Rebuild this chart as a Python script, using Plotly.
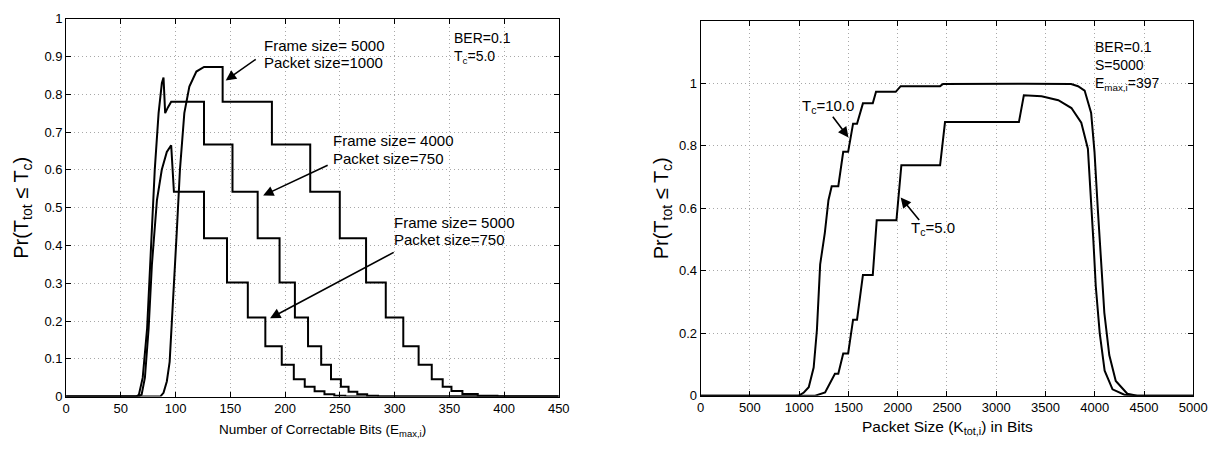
import plotly.graph_objects as go

# ---------------- data ----------------
# Left panel: Pr(T_tot <= T_c) vs number of correctable bits
a_x = [0, 86, 89, 92, 94.6, 98, 101, 104, 108, 112.6, 119, 126, 143, 143, 188, 188, 223, 223, 250, 250,
       274, 274, 292, 292, 308, 308, 322, 322, 334, 334, 344, 344, 352, 352, 362, 362, 376, 376, 394, 394, 450]
a_y = [0, 0, 0.01, 0.04, 0.092, 0.26, 0.43, 0.60, 0.75, 0.82, 0.86, 0.872, 0.872, 0.78, 0.78, 0.667, 0.667,
       0.542, 0.542, 0.419, 0.419, 0.302, 0.302, 0.209, 0.209, 0.133, 0.133, 0.084, 0.084, 0.046, 0.046,
       0.026, 0.026, 0.015, 0.015, 0.007, 0.007, 0.002, 0.002, 0, 0]

b_x = [0, 64, 66.5, 70, 74, 78, 81, 84.5, 87.5, 89, 90.5, 93, 96, 126, 126, 152, 152, 175, 175, 195, 195,
       209, 209, 221, 221, 233, 233, 242, 242, 251, 251, 258, 258, 266, 266, 275, 275, 285, 285, 450]
b_y = [0, 0, 0.005, 0.05, 0.18, 0.43, 0.60, 0.75, 0.83, 0.844, 0.75, 0.765, 0.78, 0.78, 0.667, 0.667,
       0.542, 0.542, 0.419, 0.419, 0.302, 0.302, 0.209, 0.209, 0.133, 0.133, 0.084, 0.084, 0.046, 0.046,
       0.026, 0.026, 0.013, 0.013, 0.006, 0.006, 0.002, 0.002, 0, 0]

c_x = [0, 66, 69, 72, 75.4, 78.4, 83, 87.4, 92, 96, 98.5, 126, 126, 147, 147, 166, 166, 182, 182, 197, 197,
       208, 208, 218, 218, 227, 227, 236, 236, 245, 245, 255, 255, 450]
c_y = [0, 0, 0.005, 0.05, 0.18, 0.35, 0.52, 0.60, 0.647, 0.665, 0.542, 0.542, 0.419, 0.419, 0.302, 0.302,
       0.209, 0.209, 0.133, 0.133, 0.084, 0.084, 0.046, 0.046, 0.026, 0.026, 0.014, 0.014, 0.006, 0.006,
       0.002, 0.002, 0, 0]

# Right panel: Pr(T_tot <= T_c) vs packet size
t10_x = [0, 997, 1047, 1097, 1147, 1180, 1213, 1260, 1297, 1330, 1397, 1447, 1497, 1547, 1587, 1647, 1747,
         1780, 1980, 2030, 2430, 2460, 3300, 3760, 3830, 3897, 3963, 3997, 4030, 4063, 4097, 4147, 4213,
         4330, 4430, 5000]
t10_y = [0, 0, 0.01, 0.027, 0.09, 0.21, 0.42, 0.52, 0.625, 0.67, 0.67, 0.78, 0.78, 0.87, 0.87, 0.935, 0.935,
         0.972, 0.972, 0.99, 0.99, 0.997, 0.998, 0.997, 0.99, 0.976, 0.904, 0.78, 0.60, 0.42, 0.265, 0.13,
         0.047, 0.006, 0, 0]

t5_x = [0, 1163, 1263, 1330, 1363, 1397, 1447, 1497, 1547, 1587, 1647, 1747, 1787, 1987, 2037, 2430, 2480,
        3230, 3280, 3460, 3630, 3763, 3863, 3930, 3960, 3985, 4010, 4050, 4100, 4180, 4300, 4400, 5000]
t5_y = [0, 0, 0.01, 0.047, 0.07, 0.07, 0.135, 0.135, 0.243, 0.243, 0.386, 0.386, 0.561, 0.561, 0.737, 0.737,
        0.875, 0.875, 0.961, 0.958, 0.945, 0.92, 0.873, 0.79, 0.65, 0.5, 0.35, 0.2, 0.08, 0.02, 0.003, 0, 0]

left_xticks = [0, 50, 100, 150, 200, 250, 300, 350, 400, 450]
left_yticks = [0, 0.1, 0.2, 0.3, 0.4, 0.5, 0.6, 0.7, 0.8, 0.9, 1.0]
left_ytext = ["0", "0.1", "0.2", "0.3", "0.4", "0.5", "0.6", "0.7", "0.8", "0.9", "1"]
right_xticks = [0, 500, 1000, 1500, 2000, 2500, 3000, 3500, 4000, 4500, 5000]
right_yticks = [0, 0.2, 0.4, 0.6, 0.8, 1.0]
right_ytext = ["0", "0.2", "0.4", "0.6", "0.8", "1"]

# ---------------- layout geometry (pixels) ----------------
W, H = 1229, 451
L_X0, L_X1, L_Y0, L_Y1 = 63, 563, 12, 403
R_X0, R_X1, R_Y0, R_Y1 = 707, 1207, 14, 402
FONT = "Liberation Sans, Arial, sans-serif"


def px(x):
    return x / W


def py(y):
    return 1 - y / H


def Ld(x, y):
    return (x - L_X0) * 450 / (L_X1 - L_X0), (L_Y1 - y) / (L_Y1 - L_Y0)


def Rd(x, y):
    return (x - R_X0) * 5000 / (R_X1 - R_X0), (R_Y1 - y) * 1.2 / (R_Y1 - R_Y0)


fig = go.Figure()
line = dict(color="black", width=2)
fig.add_trace(go.Scatter(x=a_x, y=a_y, mode="lines", line=line, xaxis="x", yaxis="y"))
fig.add_trace(go.Scatter(x=b_x, y=b_y, mode="lines", line=line, xaxis="x", yaxis="y"))
fig.add_trace(go.Scatter(x=c_x, y=c_y, mode="lines", line=line, xaxis="x", yaxis="y"))
fig.add_trace(go.Scatter(x=t10_x, y=t10_y, mode="lines", line=line, xaxis="x2", yaxis="y2"))
fig.add_trace(go.Scatter(x=t5_x, y=t5_y, mode="lines", line=line, xaxis="x2", yaxis="y2"))

axis_common = dict(
    showline=True, linecolor="black", linewidth=1, mirror="ticks",
    ticks="inside", ticklen=5, tickcolor="black",
    showgrid=True, gridcolor="#a8a8a8", griddash="1px,3px", gridwidth=1,
    zeroline=False, tickfont=dict(family=FONT, size=13, color="black"),
)

fig.update_layout(
    width=W, height=H, margin=dict(l=0, r=0, t=0, b=0),
    paper_bgcolor="white", plot_bgcolor="white", showlegend=False,
    font=dict(family=FONT, color="black"),
    xaxis=dict(domain=[px(L_X0), px(L_X1)], range=[0, 450], tickvals=left_xticks, anchor="y", **axis_common),
    yaxis=dict(domain=[py(L_Y1), py(L_Y0)], range=[0, 1], tickvals=left_yticks, ticktext=left_ytext,
               anchor="x", **axis_common),
    xaxis2=dict(domain=[px(R_X0), px(R_X1)], range=[0, 5000], tickvals=right_xticks, anchor="y2", **axis_common),
    yaxis2=dict(domain=[py(R_Y1), py(R_Y0)], range=[0, 1.2], tickvals=right_yticks, ticktext=right_ytext,
                anchor="x2", **axis_common),
)

ann = []


def text_ann(panel, x, y, t, size=15, xanchor="left", yanchor="middle"):
    if panel == "L":
        dx, dy = Ld(x, y)
        xr, yr = "x", "y"
    else:
        dx, dy = Rd(x, y)
        xr, yr = "x2", "y2"
    ann.append(dict(x=dx, y=dy, xref=xr, yref=yr, text=t, showarrow=False, xanchor=xanchor,
                    yanchor=yanchor, align="left", font=dict(family=FONT, size=size, color="black")))


def arrow_ann(panel, tail, head):
    if panel == "L":
        hx, hy = Ld(*head)
        tx, ty = Ld(*tail)
        xr, yr = "x", "y"
    else:
        hx, hy = Rd(*head)
        tx, ty = Rd(*tail)
        xr, yr = "x2", "y2"
    ann.append(dict(x=hx, y=hy, xref=xr, yref=yr, ax=tx, ay=ty, axref=xr, ayref=yr, text="",
                    showarrow=True, arrowhead=2, arrowsize=1.3, arrowwidth=1.6, arrowcolor="black",
                    standoff=0, startstandoff=0))


# left panel texts
text_ann("L", 262, 40, "Frame size= 5000")
text_ann("L", 262, 57.5, "Packet size=1000")
text_ann("L", 332, 138, "Frame size= 4000")
text_ann("L", 332, 157, "Packet size=750")
text_ann("L", 394, 223, "Frame size= 5000")
text_ann("L", 394, 241, "Packet size=750")
text_ann("L", 455, 22, "BER=0.1<br>T<sub>c</sub>=5.0", size=14, yanchor="top")
arrow_ann("L", (257, 53), (225, 76))
arrow_ann("L", (330, 163), (263, 195))
arrow_ann("L", (397, 253), (270, 322))

# right panel texts
text_ann("R", 1105, 31, "BER=0.1<br>S=5000<br>E<sub>max,i</sub>=397", size=14, yanchor="top")
text_ann("R", 808, 103, "T<sub>c</sub>=10.0")
text_ann("R", 918, 229, "T<sub>c</sub>=5.0")
arrow_ann("R", (840, 112), (857, 135))
arrow_ann("R", (930, 222), (910, 197))

# axis titles
ann.append(dict(x=px(18), y=py(208), xref="paper", yref="paper", text="Pr(T<sub>tot</sub> ≤ T<sub>c</sub>)",
                textangle=-90, showarrow=False, xanchor="center", yanchor="middle",
                font=dict(family=FONT, size=20, color="black")))
ann.append(dict(x=px(668), y=py(208), xref="paper", yref="paper", text="Pr(T<sub>tot</sub> ≤ T<sub>c</sub>)",
                textangle=-90, showarrow=False, xanchor="center", yanchor="middle",
                font=dict(family=FONT, size=20, color="black")))
ann.append(dict(x=px(323), y=py(438), xref="paper", yref="paper",
                text="Number of Correctable Bits (E<sub>max,i</sub>)", showarrow=False,
                xanchor="center", yanchor="middle", font=dict(family=FONT, size=13.5, color="black")))
ann.append(dict(x=px(958), y=py(435), xref="paper", yref="paper",
                text="Packet Size (K<sub>tot,i</sub>) in Bits", showarrow=False,
                xanchor="center", yanchor="middle", font=dict(family=FONT, size=15.5, color="black")))

fig.update_layout(annotations=ann)
fig.write_html("out.html")
